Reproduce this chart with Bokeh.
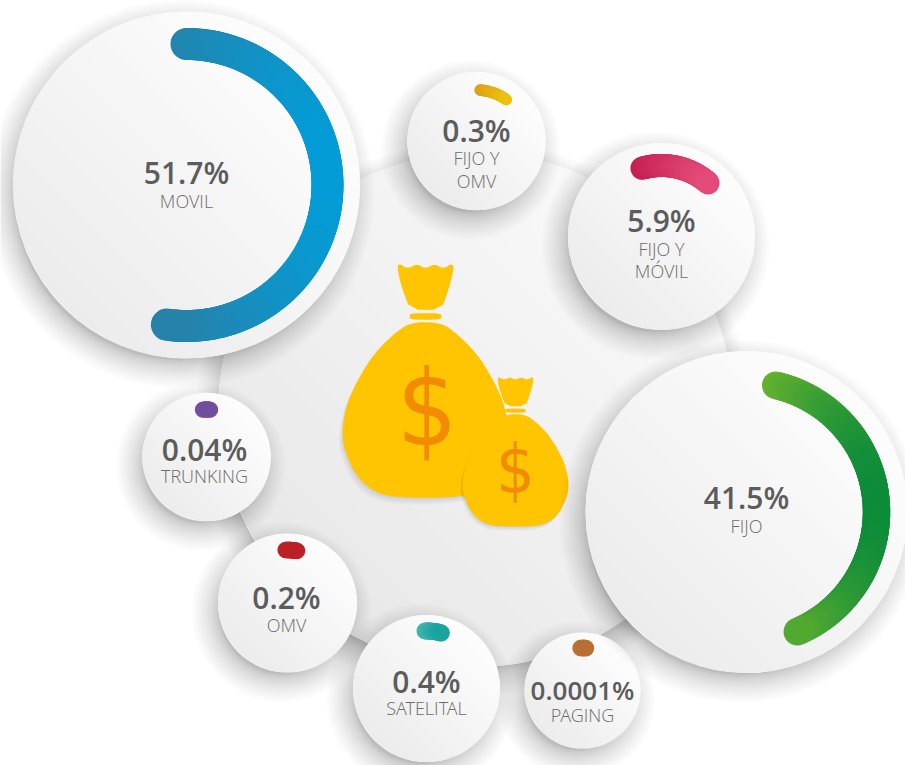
import math
from bokeh.plotting import figure
from bokeh.models import Range1d
from bokeh.core.properties import value
from bokeh.embed import file_html
from bokeh.resources import INLINE

# ---- data ----
categories = ["MOVIL", "FIJO", "FIJO Y MÓVIL", "FIJO Y OMV", "SATELITAL", "OMV", "TRUNKING", "PAGING"]
shares = [51.7, 41.5, 5.9, 0.3, 0.4, 0.2, 0.04, 0.0001]
label_lines = [["MOVIL"], ["FIJO"], ["FIJO Y", "MÓVIL"], ["FIJO Y", "OMV"], ["SATELITAL"], ["OMV"], ["TRUNKING"], ["PAGING"]]

# ---- layout ----
W, H = 905, 765
OX, OY = 0, 0
centers = [(186, 184.5), (746, 511.5), (661, 236), (476, 140.5), (426, 688), (287, 602.5), (206, 456.5), (582, 690)]
radii = [173, 160.5, 93, 68.7, 73, 69, 63.7, 57.5]
arc_r = [141, 130, 71, 51, 57.5, 53, 47.5, 42.5]
arc_w = [32, 27.5, 23, 11.5, 17, 16.5, 16, 16.5]
arc_from = [90, 77, 106, 86, 91.5, 92, 94.5, 92.7]
arc_to = [-98, -67, 49, 54.2, 75, 79.6, 85.5, 85.3]
grad_a = ["#2b7fa5", "#72b62d", "#c2174a", "#d9971e", "#5cc0b8", "#d8303a", "#7a52a5", "#c57f2a"]
grad_b = ["#009fdb", "#00873b", "#e8527f", "#f0c808", "#009a96", "#a31014", "#6a4c9a", "#b0653a"]
grad_vertical = [False, False, False, False, False, True, False, False]
text_x = [186, 746, 661, 476, 426, 286, 204, 582]
value_y = [172, 497, 220, 130, 681, 597, 449, 689]
label_y = [[200], [525], [248, 270], [157, 180], [707], [624], [475], [714]]
value_size = ["30px", "30px", "30px", "30px", "30px", "30px", "30px", "26px"]

TEXT_DARK = "#5c5c5c"
TEXT_LIGHT = "#6c6c6c"
BAG = "#fec500"
DOLLAR = "#f28b00"

p = figure(width=W, height=H, output_backend="svg", toolbar_location=None,
           x_range=Range1d(OX, OX + W), y_range=Range1d(OY + H, OY),
           min_border=0, outline_line_color=None, background_fill_color="white",
           border_fill_color="white")
p.axis.visible = False
p.grid.visible = False


def hex2rgb(c):
    return tuple(int(c[i:i + 2], 16) for i in (1, 3, 5))


def mix(a, b, t):
    t = max(0.0, min(1.0, t))
    ra, rb = hex2rgb(a), hex2rgb(b)
    return "#%02x%02x%02x" % tuple(int(round(x + (y - x) * t)) for x, y in zip(ra, rb))


def shadow(cx, cy, r, reach, dx, dy, alpha, n=22):
    xs, ys, rs = [], [], []
    for i in range(n):
        f = i / (n - 1)
        xs.append(cx + dx)
        ys.append(cy + dy)
        rs.append(r - reach * 0.25 + reach * (1 - f) ** 1.6)
    p.circle(xs, ys, radius=rs, fill_color="#000000", fill_alpha=alpha, line_color=None)


def disc(cx, cy, r, dark, light, steps=32):
    """disc shaded along the lower-left to upper-right diagonal"""
    p.circle([cx], [cy], radius=[r + 0.6], fill_color="#ffffff", line_color=None)
    ang = math.radians(-45)
    xs, ys, cols = [], [], []
    for k in range(steps):
        t = k / steps
        d = -r + 2 * r * t
        a0 = math.acos(max(-1, min(1, d / r)))
        pts = [ang - a0 + 2 * a0 * j / 60 for j in range(61)]
        xs.append([cx + r * math.cos(a) for a in pts])
        ys.append([cy + r * math.sin(a) for a in pts])
        cols.append(mix(dark, light, t * 1.1))
    p.patches(xs, ys, fill_color=cols, line_color=None)


def arc_band(i):
    cx, cy = centers[i]
    r = arc_r[i]
    a0, a1 = arc_from[i], arc_to[i]
    n = max(6, int(abs(a0 - a1) * 0.9))
    angs = [a0 + (a1 - a0) * k / n for k in range(n + 1)]
    X = [cx + r * math.cos(math.radians(a)) for a in angs]
    Y = [cy - r * math.sin(math.radians(a)) for a in angs]
    lo_x, hi_x = min(X) - arc_w[i] / 2, max(X) + arc_w[i] / 2
    lo_y, hi_y = min(Y) - arc_w[i] / 2, max(Y) + arc_w[i] / 2
    xs, ys, cols = [], [], []
    for k in range(n):
        xs.append([X[k], X[k + 1]])
        ys.append([Y[k], Y[k + 1]])
        if grad_vertical[i]:
            t = ((Y[k] + Y[k + 1]) / 2 - lo_y) / (hi_y - lo_y)
        else:
            t = ((X[k] + X[k + 1]) / 2 - lo_x) / (hi_x - lo_x)
        cols.append(mix(grad_a[i], grad_b[i], t))
    p.multi_line(xs, ys, line_color=cols, line_width=arc_w[i], line_cap="round", line_join="round")


def chaikin(pts, it=3):
    for _ in range(it):
        out = []
        m = len(pts)
        for j in range(m):
            x0, y0 = pts[j]
            x1, y1 = pts[(j + 1) % m]
            out.append((0.75 * x0 + 0.25 * x1, 0.75 * y0 + 0.25 * y1))
            out.append((0.25 * x0 + 0.75 * x1, 0.25 * y0 + 0.75 * y1))
        pts = out
    return pts


# money-bag outline, in units where the mouth is at the top and the axis at x = 0
half_body = [(-45, 215), (-95, 250), (-155, 310), (-205, 390), (-240, 470), (-252, 560), (-235, 620),
             (-205, 680), (-155, 725), (-85, 742)]
BODY = chaikin(half_body + [(-x, y) for x, y in reversed(half_body)], 3)
NECK = chaikin([(-82, 38), (-52, 55), (-27, 40), (0, 55), (27, 40), (52, 55), (82, 38),
                (84, 60), (70, 115), (48, 178), (-46, 178), (-70, 115), (-84, 60)], 1)
BAND = chaikin([(-46, 188), (46, 188), (48, 198), (46, 208), (-46, 208), (-48, 198)], 2)


def bag(axis_px, bottom_px, k, dollar_x, dollar_y, dollar_size):
    def tr(poly, ox=0, oy=0):
        return ([axis_px + ox + k * x for x, _ in poly],
                [bottom_px + oy + k * (y - 742) for _, y in poly])
    for s in range(10):
        sx, sy = tr(BODY, -s * 0.45 * k * 3, (1 + s) * 0.7 * k * 3)
        p.patch(sx, sy, fill_color="#000000", fill_alpha=0.012, line_color=None)
    for poly in (BODY, BAND, NECK):
        x, y = tr(poly)
        p.patch(x, y, fill_color=BAG, line_color=None)
    p.text([dollar_x], [dollar_y], text=["$"], text_color=DOLLAR, text_align="center",
           text_baseline="middle", text_font=value("DejaVu Sans Condensed"),
           text_font_size=dollar_size)


# ---- central disc ----
shadow(475.5, 409, 257, 28, -3, 9, 0.011)
disc(475.5, 409, 257, "#e8e8e8", "#f8f8f8", 40)

# ---- bags ----
bag(425, 497.3, 1 / 3, 426.5, 407.5, "106px")
bag(515, 526, 0.213, 515, 468.7, "68px")

# ---- small / large discs with their bands and texts ----
for i in [3, 2, 6, 5, 4, 7, 0, 1]:
    cx, cy = centers[i]
    r = radii[i]
    shadow(cx, cy, r, 28, -6, 9, 0.012)
    disc(cx, cy, r, "#ececec", "#fcfcfc")
    arc_band(i)
    p.text([text_x[i]], [value_y[i]], text=[f"{shares[i]}%"], text_color=TEXT_DARK, text_align="center",
           text_baseline="middle", text_font=value("Open Sans SemiBold"),
           text_font_size=value_size[i])
    for line, yy in zip(label_lines[i], label_y[i]):
        p.text([text_x[i]], [yy], text=[line], text_color=TEXT_LIGHT, text_align="center",
               text_baseline="middle", text_font=value("Open Sans Light"),
               text_font_size="18px")

open("out.html", "w").write(file_html(p, INLINE))
